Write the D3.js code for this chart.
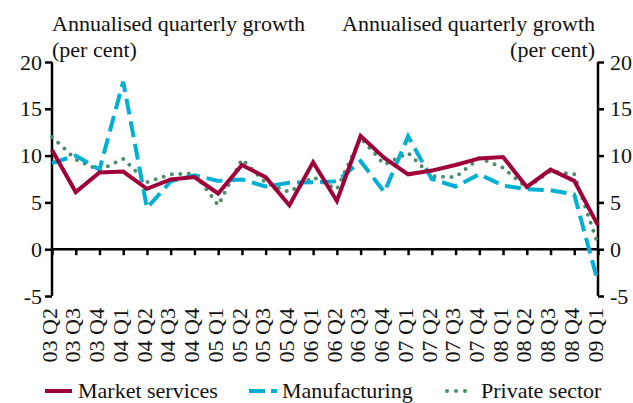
<!DOCTYPE html>
<html>
<head>
<meta charset="utf-8">
<script src="https://cdn.jsdelivr.net/npm/d3@7"></script>
<style>
  html, body { margin: 0; padding: 0; background: #fff; }
  svg { display: block; }
  text { font-family: "Liberation Serif", "DejaVu Serif", serif; fill: #111; }
</style>
</head>
<body>
<svg id="chart" width="633" height="403"></svg>
<script>
const categories = ["03 Q2","03 Q3","03 Q4","04 Q1","04 Q2","04 Q3","04 Q4","05 Q1","05 Q2","05 Q3","05 Q4","06 Q1","06 Q2","06 Q3","06 Q4","07 Q1","07 Q2","07 Q3","07 Q4","08 Q1","08 Q2","08 Q3","08 Q4","09 Q1"];
const marketServices = [10.6,6.1,8.2,8.3,6.45,7.45,7.7,5.95,9.0,7.7,4.7,9.3,5.15,12.1,9.75,8.0,8.4,9.0,9.7,9.85,6.65,8.5,7.3,2.55];
const manufacturing = [9.2,10.0,8.5,17.9,4.4,7.25,7.9,7.3,7.45,6.7,7.1,7.15,7.25,9.4,6.1,12.05,7.5,6.7,8.0,6.8,6.4,6.3,5.85,-3.55];
const privateSector = [12.0,9.6,8.45,9.65,7.15,8.0,8.1,4.7,9.6,7.1,6.1,7.7,6.4,11.9,9.05,10.3,7.8,7.7,9.75,8.7,6.55,8.35,8.0,0.5];
const yTicks = [-5,0,5,10,15,20];
const seriesNames = ["Market services","Manufacturing","Private sector"];
const seriesColors = ["#a0003a","#00b0d4","#4a8f6c"];

(function () {
const svg = d3.select("#chart");
const mLeft = 52, mRight = 598, mTop = 62, mBottom = 296;
const fs = 22;

const x = d3.scalePoint().domain(categories).range([mLeft, mRight]);
const y = d3.scaleLinear().domain([-5, 20]).range([mBottom, mTop]);

// Titles
svg.append("text").attr("x", mLeft).attr("y", 31).attr("font-size", fs).text("Annualised quarterly growth");
svg.append("text").attr("x", mLeft).attr("y", 57).attr("font-size", fs).text("(per cent)");
svg.append("text").attr("x", 595).attr("y", 31).attr("font-size", fs).attr("text-anchor", "end").text("Annualised quarterly growth");
svg.append("text").attr("x", 595).attr("y", 57).attr("font-size", fs).attr("text-anchor", "end").text("(per cent)");

const fmt = d => d < 0 ? "-" + Math.abs(d) : String(d);

// Y axes
const yl = svg.append("g").attr("transform", `translate(${mLeft},0)`)
  .call(d3.axisLeft(y).tickValues(yTicks).tickSize(7).tickPadding(3).tickFormat(fmt));
const yr = svg.append("g").attr("transform", `translate(${mRight},0)`)
  .call(d3.axisRight(y).tickValues(yTicks).tickSize(6).tickPadding(6).tickFormat(fmt));
[yl, yr].forEach(g => {
  g.select(".domain").attr("stroke", "#000").attr("stroke-width", 2.5).attr("d", `M0,${mTop}V${mBottom}`);
  g.selectAll(".tick line").attr("stroke", "#000").attr("stroke-width", 2.5);
  g.selectAll(".tick text").attr("font-size", fs).attr("font-family", "Liberation Serif, serif").attr("fill", "#111");
});

// X axis at zero
const xa = svg.append("g").attr("transform", `translate(0,${y(0)})`)
  .call(d3.axisBottom(x).tickSize(6).tickFormat(""));
xa.select(".domain").attr("stroke", "#000").attr("stroke-width", 2.5).attr("d", `M${mLeft},0H${mRight}`);
xa.selectAll(".tick line").attr("stroke", "#000").attr("stroke-width", 2.5);

// X labels at bottom, rotated
const xl = svg.append("g");
xl.selectAll("text").data(categories).enter().append("text")
  .attr("transform", d => `translate(${x(d) - 3},308) rotate(-90)`)
  .attr("text-anchor", "end")
  .attr("dy", "0.35em")
  .attr("font-size", fs)
  .text(d => d);

// Lines
const line = d3.line().x((d, i) => x(categories[i])).y(d => y(d));
svg.append("path").datum(privateSector).attr("d", line).attr("fill", "none")
  .attr("stroke", seriesColors[2]).attr("stroke-width", 4).attr("stroke-linecap", "round")
  .attr("stroke-dasharray", "0 8.5");
svg.append("path").datum(manufacturing).attr("d", line).attr("fill", "none")
  .attr("stroke", seriesColors[1]).attr("stroke-width", 4).attr("stroke-dasharray", "16 7");
svg.append("path").datum(marketServices).attr("d", line).attr("fill", "none")
  .attr("stroke", seriesColors[0]).attr("stroke-width", 4).attr("stroke-linejoin", "miter");

// Legend
const lg = svg.append("g");
const ly = 391;
lg.append("line").attr("x1", 45).attr("x2", 72).attr("y1", ly).attr("y2", ly)
  .attr("stroke", seriesColors[0]).attr("stroke-width", 4);
lg.append("text").attr("x", 78).attr("y", 398).attr("font-size", fs).text(seriesNames[0]);
lg.append("line").attr("x1", 249).attr("x2", 277).attr("y1", ly).attr("y2", ly)
  .attr("stroke", seriesColors[1]).attr("stroke-width", 4).attr("stroke-dasharray", "16 6");
lg.append("text").attr("x", 282).attr("y", 398).attr("font-size", fs).text(seriesNames[1]);
lg.append("line").attr("x1", 447).attr("x2", 467).attr("y1", ly).attr("y2", ly)
  .attr("stroke", seriesColors[2]).attr("stroke-width", 4).attr("stroke-linecap", "round")
  .attr("stroke-dasharray", "0 9");
lg.append("text").attr("x", 481).attr("y", 398).attr("font-size", fs).text(seriesNames[2]);
})();
</script>
</body>
</html>
